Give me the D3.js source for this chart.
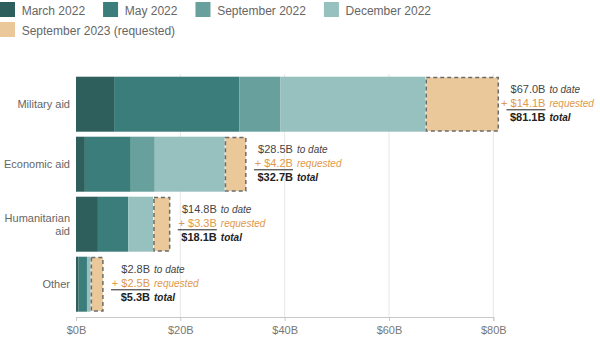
<!DOCTYPE html>
<html>
<head>
<meta charset="utf-8">
<script src="https://cdn.jsdelivr.net/npm/d3@7"></script>
<style>
  html, body { margin: 0; padding: 0; background: #fff; }
  svg { display: block; font-family: "Liberation Sans", Arial, Helvetica, sans-serif; }
</style>
</head>
<body>
<svg id="chart" width="600" height="342"></svg>
<script>
// Aid categories and funding tranches (billions of USD)
const categories = ["Military aid", "Economic aid", "Humanitarian aid", "Other"];
const categoryLines = [["Military aid"], ["Economic aid"], ["Humanitarian", "aid"], ["Other"]];
const march2022 = [7.3, 1.7, 4.2, 0.5];
const may2022 = [24.0, 8.8, 5.8, 1.6];
const sept2022 = [7.9, 4.6, 0, 0];
const dec2022 = [27.8, 13.4, 4.8, 0.7];
const requested = [14.1, 4.2, 3.3, 2.5];

const seriesNames = ["March 2022", "May 2022", "September 2022", "December 2022"];
const requestedName = "September 2023 (requested)";
const xTicks = [0, 20, 40, 60, 80];

const colors = ["#2e5f5c", "#3b7d7a", "#67a09d", "#97c1bf"];
const requestedColor = "#eac89a";
const orange = "#e0984a";

const svg = d3.select("#chart");

// Table for stacking
const rows = categories.map((c, i) => ({
  category: c,
  "March 2022": march2022[i],
  "May 2022": may2022[i],
  "September 2022": sept2022[i],
  "December 2022": dec2022[i]
}));
const stack = d3.stack().keys(seriesNames)(rows);

const x = d3.scaleLinear().domain([0, 80]).range([76, 493.3]);
const y = d3.scaleBand().domain(categories).range([74.2, 314.2])
  .paddingInner(5 / 60).paddingOuter(2.5 / 60);

const axisY = 317;

// Gridlines
svg.append("g").selectAll("line").data(xTicks.filter(d => d > 0)).join("line")
  .attr("x1", d => x(d)).attr("x2", d => x(d))
  .attr("y1", 74).attr("y2", axisY)
  .attr("stroke", "#e6e6e6").attr("stroke-width", 1);

// X axis
const xAxis = svg.append("g").attr("transform", `translate(0,${axisY})`)
  .call(d3.axisBottom(x).tickValues(xTicks).tickSizeOuter(0).tickSize(4)
    .tickFormat(d => "$" + d + "B"));
xAxis.select(".domain").attr("stroke", "#c8c8c8");
xAxis.selectAll(".tick line").attr("stroke", "#c8c8c8");
xAxis.selectAll(".tick text").attr("fill", "#777").attr("font-size", 11)
  .attr("font-family", "Liberation Sans, Arial, sans-serif").attr("dy", "0.95em");

// Stacked bars
svg.append("g").selectAll("g").data(stack).join("g")
  .attr("fill", (d, i) => colors[i])
  .selectAll("rect").data(d => d).join("rect")
  .attr("x", d => x(d[0]))
  .attr("width", d => x(d[1]) - x(d[0]))
  .attr("y", d => y(d.data.category))
  .attr("height", y.bandwidth());

const toDate = categories.map((c, i) => march2022[i] + may2022[i] + sept2022[i] + dec2022[i]);
const fmt = v => "$" + (Math.round(v * 10) / 10).toFixed(1) + "B";

// Requested portions
svg.append("g").selectAll("rect").data(categories).join("rect")
  .attr("x", (c, i) => x(toDate[i]) + 0.75)
  .attr("width", (c, i) => x(toDate[i] + requested[i]) - x(toDate[i]) - 1.5)
  .attr("y", c => y(c) + 0.75)
  .attr("height", y.bandwidth() - 1.5)
  .attr("fill", requestedColor)
  .attr("stroke", "#6b6b6b").attr("stroke-width", 1.5)
  .attr("stroke-dasharray", "4,3");

// Category labels
const catG = svg.append("g").attr("font-size", 11).attr("fill", "#666").attr("text-anchor", "end");
categories.forEach((c, i) => {
  const lines = categoryLines[i];
  const cy = y(c) + y.bandwidth() / 2;
  const t = catG.append("text").attr("x", 70)
    .attr("y", cy + 4 - (lines.length - 1) * 6.5);
  lines.forEach((l, j) => t.append("tspan").attr("x", 70).attr("dy", j === 0 ? 0 : 13).text(l));
});

// Value annotations: right-aligned amount column, small italic descriptors
const annG = svg.append("g");
categories.forEach((c, i) => {
  const cy = y(c) + y.bandwidth() / 2;
  const end = x(toDate[i] + requested[i]);
  const col = end + 46.4;
  const g = annG.append("g");
  const l1 = cy - 11, l2 = cy + 3.2, l3 = cy + 16.6;

  g.append("text").attr("x", col).attr("y", l1).attr("text-anchor", "end")
    .attr("font-size", 11).attr("fill", "#444").text(fmt(toDate[i]));
  g.append("text").attr("x", col + 4).attr("y", l1).attr("fill", "#444")
    .attr("font-size", 10).attr("font-style", "italic").text("to date");

  g.append("text").attr("x", col).attr("y", l2).attr("text-anchor", "end")
    .attr("font-size", 11).attr("fill", orange).text("+ " + fmt(requested[i]));
  g.append("text").attr("x", col + 4).attr("y", l2).attr("fill", orange)
    .attr("font-size", 10).attr("font-style", "italic").text("requested");

  g.append("line").attr("x1", col - 39).attr("x2", col)
    .attr("y1", cy + 5.6).attr("y2", cy + 5.6)
    .attr("stroke", "#222").attr("stroke-width", 1);

  g.append("text").attr("x", col).attr("y", l3).attr("text-anchor", "end")
    .attr("font-size", 11).attr("fill", "#222").attr("font-weight", "bold")
    .text(fmt(toDate[i] + requested[i]));
  g.append("text").attr("x", col + 4).attr("y", l3).attr("fill", "#222")
    .attr("font-size", 10).attr("font-weight", "bold").attr("font-style", "italic").text("total");
});

// Legend (flowing layout)
const legendItems = seriesNames.map((n, i) => ({ name: n, color: colors[i] }))
  .concat([{ name: requestedName, color: requestedColor }]);
const legG = svg.append("g").attr("font-size", 12);
let lx = 0, ly = 2;
legendItems.forEach(item => {
  const g = legG.append("g");
  const t = g.append("text").attr("x", 21.7).attr("y", 13).attr("fill", "#666").text(item.name);
  const w = 21.7 + t.node().getComputedTextLength();
  if (lx > 0 && lx + w > 600) { lx = 0; ly += 20; }
  g.append("rect").attr("width", 15).attr("height", 15).attr("fill", item.color);
  g.attr("transform", `translate(${lx},${ly})`);
  lx += w + 18;
});
</script>
</body>
</html>
